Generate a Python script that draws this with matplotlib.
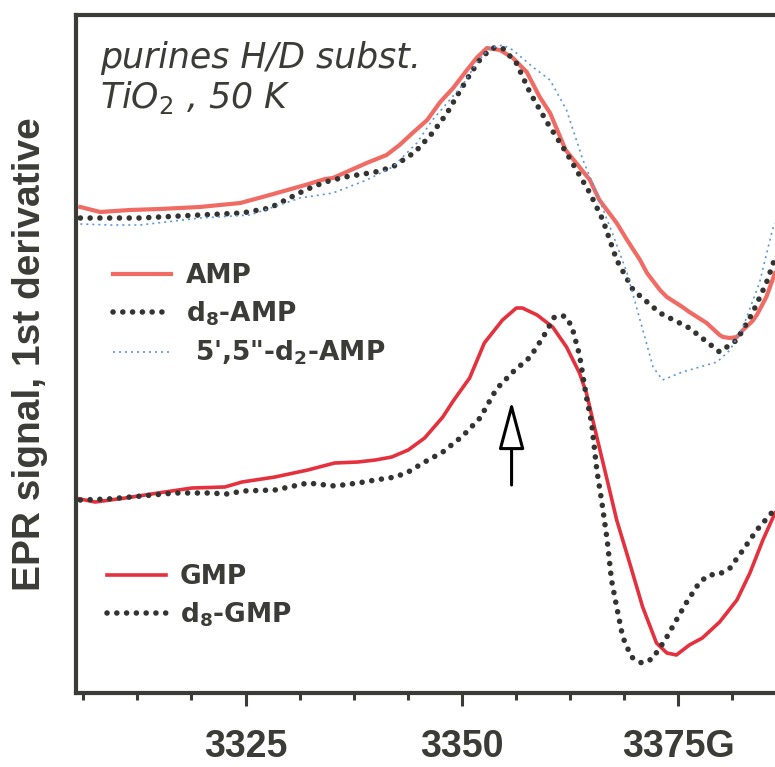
import numpy as np
import matplotlib
matplotlib.use("Agg")
import matplotlib.pyplot as plt
from matplotlib import font_manager

# EPR spectra (field in G, signal in arbitrary units)
amp_field = [3305.9, 3308.2, 3311.6, 3315.1, 3319.7, 3324.4, 3327.8, 3331.9, 3334.2, 3335.1,
             3339.0, 3341.3, 3342.8, 3344.3, 3346.0, 3347.5, 3349.0, 3350.6, 3351.7, 3352.9,
             3354.4, 3355.9, 3357.5, 3359.0, 3360.2, 3362.0, 3364.8, 3365.9, 3367.9, 3369.1,
             3370.6, 3371.4, 3372.9, 3373.7, 3375.5, 3376.3, 3378.3, 3379.8, 3380.2, 3381.0,
             3381.8, 3382.5, 3383.6, 3384.1, 3385.2, 3386.2]
amp_sig = [486, 481, 483, 484, 486, 490, 498, 508, 514, 515,
           530, 538, 548, 560, 573, 591, 605, 623, 635, 645,
           643, 635, 621, 596, 580, 543, 513, 493, 470, 453,
           433, 420, 403, 396, 386, 381, 370, 358, 356, 355,
           356, 363, 372, 378, 396, 420]

d8amp_field = [3305.9, 3312.8, 3319.7, 3324.6, 3327.8, 3331.9, 3334.2, 3336.5, 3340.0, 3342.0,
               3344.6, 3346.6, 3348.3, 3349.5, 3350.9, 3352.3, 3353.6, 3354.7, 3356.3, 3357.9,
               3359.9, 3362.1, 3364.8, 3366.3, 3367.9, 3369.8, 3372.9, 3376.3, 3379.8, 3381.8,
               3383.6, 3385.2, 3386.2]
d8amp_sig = [475, 475, 478, 480, 485, 503, 511, 516, 521, 526,
             541, 560, 580, 598, 618, 636, 645, 645, 630, 600,
             570, 540, 500, 473, 433, 403, 380, 365, 341, 353,
             380, 410, 435]

d2amp_field = [3305.9, 3309.3, 3312.8, 3319.7, 3325.5, 3331.3, 3335.1, 3339.0, 3342.0, 3344.8,
               3346.6, 3348.6, 3350.1, 3351.7, 3353.2, 3354.7, 3355.9, 3358.2, 3360.2, 3362.1,
               3364.0, 3365.9, 3367.4, 3369.1, 3370.6, 3372.1, 3373.2, 3375.5, 3379.5, 3381.0,
               3382.5, 3384.4, 3385.9, 3386.2]
d2amp_sig = [469, 468, 468, 475, 478, 495, 500, 513, 526, 550,
             573, 593, 608, 630, 645, 648, 643, 626, 613, 583,
             533, 493, 460, 420, 373, 326, 313, 321, 331, 343,
             366, 410, 463, 470]

gmp_field = [3305.3, 3307.6, 3311.1, 3314.9, 3318.8, 3322.6, 3324.6, 3328.4, 3332.2, 3335.3,
             3338.0, 3340.0, 3341.9, 3343.8, 3345.7, 3347.8, 3349.0, 3350.9, 3352.6, 3354.7,
             3356.3, 3357.0, 3358.7, 3360.5, 3362.1, 3363.6, 3364.4, 3365.6, 3366.8, 3367.9,
             3369.4, 3370.9, 3372.5, 3373.7, 3374.8, 3376.3, 3377.8, 3379.8, 3381.8, 3383.3,
             3384.8, 3386.2]
gmp_sig = [195, 191, 195, 200, 205, 206, 211, 216, 223, 230,
           231, 233, 236, 243, 255, 276, 292, 315, 350, 373,
           385, 385, 378, 366, 346, 320, 300, 256, 213, 173,
           130, 86, 50, 40, 38, 48, 55, 71, 93, 120,
           153, 180]

d8gmp_field = [3305.9, 3309.1, 3313.0, 3316.8, 3320.7, 3323.0, 3324.6, 3328.4, 3332.2, 3335.3,
               3338.0, 3340.0, 3342.3, 3343.8, 3345.7, 3347.8, 3350.1, 3352.1, 3354.0, 3355.9,
               3357.9, 3359.4, 3360.7, 3361.9, 3362.7, 3363.6, 3364.4, 3365.0, 3365.6, 3366.2,
               3366.8, 3367.3, 3367.9, 3368.6, 3369.6, 3370.8, 3372.0, 3373.5, 3374.8, 3376.0,
               3377.5, 3378.6, 3379.8, 3381.0, 3382.5, 3384.1, 3385.9]
d8gmp_sig = [193, 194, 197, 200, 200, 199, 202, 203, 210, 207,
             210, 213, 216, 221, 231, 241, 257, 275, 304, 321,
             336, 356, 376, 377, 367, 338, 296, 270, 223, 190,
             153, 113, 86, 56, 36, 30, 34, 53, 73, 91,
             111, 118, 119, 125, 143, 163, 181]

major_ticks = [3325, 3350, 3375]
major_labels = ["3325", "3350", "3375G"]
minor_ticks = np.arange(3306.25, 3386, 6.25)

arrow_field = 3355.75
arrow_from, arrow_to = 208, 292

dark = "#3b3b37"
installed = {f.name for f in font_manager.fontManager.ttflist}
narrow = "Liberation Sans Narrow" if "Liberation Sans Narrow" in installed else "Liberation Sans"

fig = plt.figure(figsize=(7.75, 7.67), dpi=100)
ax = fig.add_axes([76 / 775, 1 - 693 / 767, 699 / 775, 678 / 767])

l_amp, = ax.plot(amp_field, amp_sig, color="#ef6b63", lw=3.0, solid_joinstyle="round")
l_d8amp, = ax.plot(d8amp_field, d8amp_sig, color="#333331", lw=4.0,
                   linestyle=(0, (0.01, 1.75)), dash_capstyle="round")
l_d2amp, = ax.plot(d2amp_field, d2amp_sig, color="#5b97d8", lw=1.2,
                   linestyle=(0, (1.2, 2.4)))
l_gmp, = ax.plot(gmp_field, gmp_sig, color="#e5303d", lw=2.6, solid_joinstyle="round")
l_d8gmp, = ax.plot(d8gmp_field, d8gmp_sig, color="#333331", lw=4.0,
                   linestyle=(0, (0.01, 1.75)), dash_capstyle="round")

ax.annotate("", xy=(arrow_field, arrow_to), xytext=(arrow_field, arrow_from),
            arrowprops=dict(arrowstyle="-|>,head_length=1.5,head_width=0.4",
                            mutation_scale=20, fc="white", ec="black", lw=2.2,
                            shrinkA=0, shrinkB=0))

ax.set_xlim(3305.4, 3386.2)
ax.set_ylim(0, 678)

for side in ["left", "top", "bottom"]:
    ax.spines[side].set_linewidth(3)
    ax.spines[side].set_color(dark)
ax.spines["right"].set_visible(False)

ax.set_yticks([])
ax.set_xticks(major_ticks)
ax.set_xticklabels(major_labels)
ax.set_xticks(minor_ticks, minor=True)
ax.tick_params(axis="x", which="major", direction="out", length=9, width=2.2,
               color=dark, pad=17)
ax.tick_params(axis="x", which="minor", direction="out", length=5, width=2.2, color=dark)
for lab in ax.get_xticklabels():
    lab.set_family(narrow)
    lab.set_fontweight("bold")
    lab.set_fontsize(27 if narrow == "Liberation Sans" else 31)
    lab.set_color(dark)

ax.set_ylabel("EPR signal, 1st derivative", fontsize=28, fontweight="bold",
              family="Liberation Sans", color=dark, labelpad=20)

ax.text(0.034, 0.922, "purines H/D subst.", transform=ax.transAxes, fontsize=25,
        style="italic", family="DejaVu Sans", color=dark)
ax.text(0.034, 0.863, r"TiO$_\mathit{2}$ , 50 K", transform=ax.transAxes, fontsize=25,
        style="italic", family="DejaVu Sans", color=dark)

leg_font = {"family": "DejaVu Sans", "weight": "bold", "size": 19}
leg1 = ax.legend([l_amp, l_d8amp, l_d2amp],
                 ["AMP", r"d$_\mathbf{8}$-AMP", r" 5',5''-d$_\mathbf{2}$-AMP".replace("''", '"')],
                 loc="upper left", bbox_to_anchor=(0.053, 0.634), frameon=False,
                 prop=leg_font, handlelength=2.2, handletextpad=0.55,
                 labelspacing=0.4, borderaxespad=0, borderpad=0)
for t in leg1.get_texts():
    t.set_color(dark)
ax.add_artist(leg1)
leg2 = ax.legend([l_gmp, l_d8gmp], ["GMP", r"d$_\mathbf{8}$-GMP"],
                 loc="upper left", bbox_to_anchor=(0.045, 0.19), frameon=False,
                 prop=leg_font, handlelength=2.2, handletextpad=0.55,
                 labelspacing=0.4, borderaxespad=0, borderpad=0)
for t in leg2.get_texts():
    t.set_color(dark)

fig.savefig("out.png", dpi=100)
